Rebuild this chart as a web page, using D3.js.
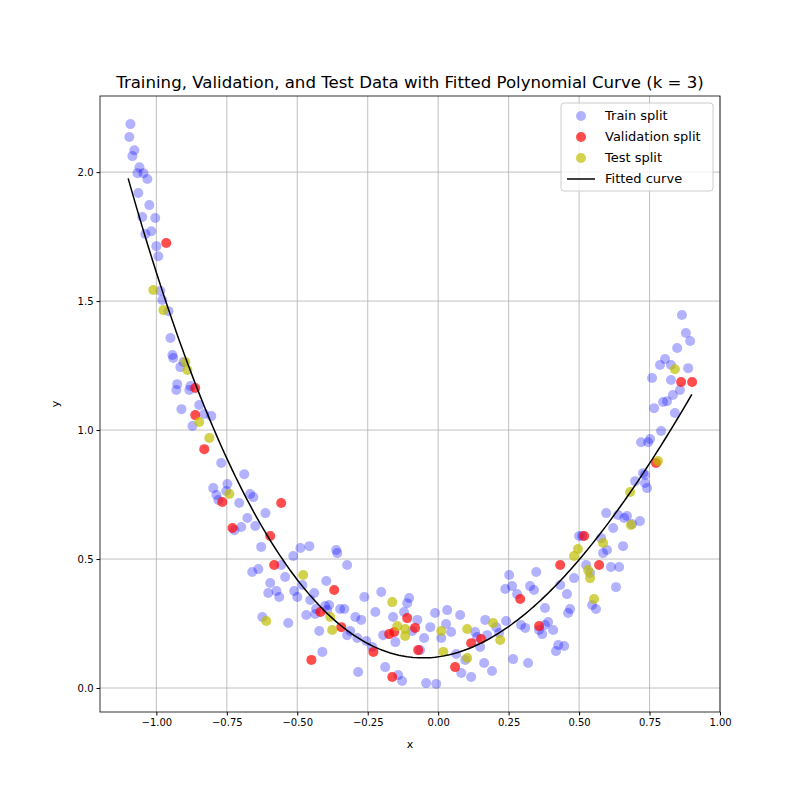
<!DOCTYPE html>
<html><head><meta charset="utf-8">
<script src="https://cdn.jsdelivr.net/npm/d3@7"></script>
<style>body{margin:0;background:#fff}text{font-family:"DejaVu Sans",sans-serif}</style>
</head><body><svg id="c" width="800" height="800"></svg>
<script>
const trainX=[-1.096,-1.092,-1.078,-1.085,-1.067,-1.060,-1.046,-1.032,-1.064,-1.050,-1.025,-1.018,-1.039,-1.004,-1.0,-0.993,-0.986,-0.979,-0.957,-0.950,-0.943,-0.940,-0.929,-0.926,-0.915,-0.904,-0.911,-0.883,-0.879,-0.872,-0.848,-0.830,-0.805,-0.770,-0.798,-0.787,-0.780,-0.748,-0.752,-0.723,-0.706,-0.688,-0.699,-0.677,-0.667,-0.656,-0.660,-0.649,-0.638,-0.628,-0.613,-0.624,-0.596,-0.603,-0.574,-0.557,-0.564,-0.543,-0.532,-0.514,-0.511,-0.5,-0.489,-0.482,-0.468,-0.457,-0.454,-0.440,-0.433,-0.422,-0.411,-0.397,-0.401,-0.394,-0.436,-0.387,-0.362,-0.358,-0.348,-0.333,-0.323,-0.323,-0.312,-0.294,-0.284,-0.287,-0.273,-0.262,-0.255,-0.234,-0.223,-0.202,-0.188,-0.195,-0.160,-0.142,-0.152,-0.128,-0.121,-0.110,-0.103,-0.092,-0.074,-0.064,-0.050,-0.043,-0.028,-0.007,-0.011,0.011,0.028,0.032,0.046,0.064,0.078,0.082,0.096,0.117,0.131,0.138,0.149,0.163,0.167,0.174,0.191,0.206,0.216,0.241,0.238,0.252,0.262,0.266,0.280,0.294,0.309,0.319,0.326,0.348,0.340,0.358,0.369,0.379,0.379,0.390,0.408,0.418,0.426,0.433,0.447,0.457,0.461,0.468,0.482,0.500,0.511,0.525,0.539,0.546,0.560,0.578,0.585,0.599,0.596,0.613,0.621,0.631,0.638,0.642,0.656,0.660,0.670,0.688,0.699,0.716,0.720,0.727,0.734,0.741,0.745,0.752,0.759,0.766,0.791,0.787,0.805,0.798,0.812,0.826,0.833,0.840,0.848,0.858,0.865,0.879,0.887,0.894,0.826,0.734];
const trainY=[2.136,2.186,2.085,2.062,1.996,2.019,1.996,1.973,1.919,1.826,1.872,1.771,1.760,1.822,1.713,1.674,1.539,1.504,1.461,1.357,1.291,1.279,1.155,1.178,1.244,1.264,1.081,1.155,1.171,1.016,1.097,1.062,1.054,0.872,0.775,0.748,0.729,0.791,0.764,0.612,0.717,0.829,0.624,0.659,0.752,0.740,0.450,0.628,0.461,0.547,0.678,0.275,0.407,0.368,0.376,0.477,0.353,0.430,0.252,0.512,0.376,0.353,0.543,0.399,0.283,0.550,0.341,0.368,0.306,0.221,0.140,0.415,0.318,0.302,0.287,0.322,0.535,0.523,0.306,0.306,0.477,0.205,0.221,0.275,0.062,0.194,0.264,0.353,0.182,0.159,0.295,0.372,0.081,0.205,0.275,0.050,0.178,0.027,0.295,0.329,0.349,0.221,0.264,0.147,0.194,0.019,0.236,0.016,0.291,0.194,0.248,0.302,0.217,0.132,0.283,0.058,0.109,0.043,0.217,0.198,0.159,0.097,0.264,0.205,0.066,0.236,0.213,0.260,0.384,0.438,0.395,0.112,0.364,0.244,0.233,0.097,0.395,0.450,0.380,0.225,0.209,0.244,0.310,0.256,0.225,0.143,0.167,0.399,0.163,0.364,0.291,0.306,0.426,0.589,0.589,0.477,0.446,0.322,0.306,0.581,0.523,0.535,0.678,0.469,0.620,0.391,0.671,0.469,0.550,0.659,0.667,0.636,0.802,0.647,0.953,0.833,0.795,0.775,0.953,0.965,1.202,1.085,0.996,1.252,1.275,1.109,1.112,1.194,1.136,1.066,1.318,1.155,1.446,1.376,1.240,1.345,1.252,0.826];
const valX=[-0.965,-0.862,-0.862,-0.830,-0.766,-0.730,-0.596,-0.582,-0.557,-0.450,-0.418,-0.369,-0.344,-0.230,-0.174,-0.163,-0.156,-0.110,-0.071,-0.082,0.060,0.117,0.152,0.291,0.358,0.433,0.518,0.571,0.773,0.862,0.901];
const valY=[1.725,1.163,1.058,0.926,0.721,0.620,0.589,0.477,0.717,0.109,0.295,0.380,0.236,0.140,0.209,0.043,0.217,0.271,0.147,0.233,0.081,0.174,0.190,0.345,0.240,0.477,0.589,0.477,0.872,1.186,1.186];
const testX=[-1.011,-0.975,-0.897,-0.890,-0.848,-0.812,-0.741,-0.610,-0.479,-0.376,-0.383,-0.163,-0.117,-0.117,0.011,0.018,0.103,0.103,0.195,0.220,0.496,0.482,0.532,0.539,0.553,0.585,0.681,0.684,0.780,0.840,-0.145];
const testY=[1.543,1.465,1.264,1.233,1.031,0.969,0.752,0.260,0.438,0.225,0.275,0.333,0.202,0.229,0.221,0.140,0.116,0.229,0.252,0.186,0.539,0.512,0.457,0.426,0.345,0.562,0.760,0.632,0.880,1.236,0.240];
const coef=[0.121,0.15,1.35,-0.29]; // fitted cubic, constant term first
const curveRange=[-1.1,0.9];
const xTicks=[-1.00,-0.75,-0.50,-0.25,0.00,0.25,0.50,0.75,1.00];
const yTicks=[0.0,0.5,1.0,1.5,2.0];

const svg=d3.select("#c");
const L=100,R=720,T=96,B=712;
const x=d3.scaleLinear().domain([-1.2,1.0]).range([L,R]);
const y=d3.scaleLinear().domain([-0.093,2.295]).range([B,T]);
const g=svg.append("g");
g.selectAll(".gx").data(xTicks).join("line").attr("x1",d=>x(d)).attr("x2",d=>x(d)).attr("y1",T).attr("y2",B).attr("stroke","#b0b0b0").attr("stroke-width",0.8);
g.selectAll(".gy").data(yTicks).join("line").attr("y1",d=>y(d)).attr("y2",d=>y(d)).attr("x1",L).attr("x2",R).attr("stroke","#b0b0b0").attr("stroke-width",0.8);
function pts(X,Y,col,op){g.append("g").selectAll("circle").data(X.map((v,i)=>[v,Y[i]])).join("circle").attr("cx",d=>x(d[0])).attr("cy",d=>y(d[1])).attr("r",5).attr("fill",col).attr("fill-opacity",op);}
pts(trainX,trainY,"#0000ff",0.3);
pts(valX,valY,"#ff0000",0.7);
pts(testX,testY,"#bfbf00",0.7);
const poly=v=>coef.reduce((s,c,i)=>s+c*Math.pow(v,i),0);
const cx=d3.range(0,201).map(i=>curveRange[0]+(curveRange[1]-curveRange[0])*i/200);
g.append("path").attr("d",d3.line().x(d=>x(d)).y(d=>y(poly(d)))(cx)).attr("fill","none").attr("stroke","#000").attr("stroke-width",1.5);
svg.append("rect").attr("x",L).attr("y",T).attr("width",R-L).attr("height",B-T).attr("fill","none").attr("stroke","#000").attr("stroke-width",0.8);
const xa=svg.append("g").attr("transform",`translate(0,${B})`).call(d3.axisBottom(x).tickValues(xTicks).tickFormat(d3.format(".2f")).tickSize(3.5).tickSizeOuter(0));
const ya=svg.append("g").attr("transform",`translate(${L},0)`).call(d3.axisLeft(y).tickValues(yTicks).tickFormat(d3.format(".1f")).tickSize(3.5).tickSizeOuter(0));
[xa,ya].forEach(a=>{a.select(".domain").remove();a.selectAll("text").attr("font-size",10).attr("fill","#000").attr("font-family","DejaVu Sans");});
svg.append("text").attr("x",(L+R)/2).attr("y",748).attr("text-anchor","middle").attr("font-size",11).text("x");
svg.append("text").attr("transform","translate(59,404) rotate(-90)").attr("text-anchor","middle").attr("font-size",11).text("y");
svg.append("text").attr("x",(L+R)/2).attr("y",88).attr("text-anchor","middle").attr("font-size",16.6).text("Training, Validation, and Test Data with Fitted Polynomial Curve (k = 3)");
const lg=svg.append("g").attr("transform","translate(561,103)");
lg.append("rect").attr("width",152).attr("height",88).attr("rx",3).attr("fill","#fff").attr("fill-opacity",0.8).attr("stroke","#ccc");
const items=[["Train split","#0000ff",0.3],["Validation split","#ff0000",0.7],["Test split","#bfbf00",0.7],["Fitted curve",null]];
items.forEach((it,i)=>{const yy=13+i*21;
 if(it[1]) lg.append("circle").attr("cx",20).attr("cy",yy).attr("r",5).attr("fill",it[1]).attr("fill-opacity",it[2]);
 else lg.append("line").attr("x1",6).attr("x2",34).attr("y1",yy).attr("y2",yy).attr("stroke","#000").attr("stroke-width",1.5);
 lg.append("text").attr("x",44).attr("y",yy+4).attr("font-size",13).text(it[0]);});
</script></body></html>
